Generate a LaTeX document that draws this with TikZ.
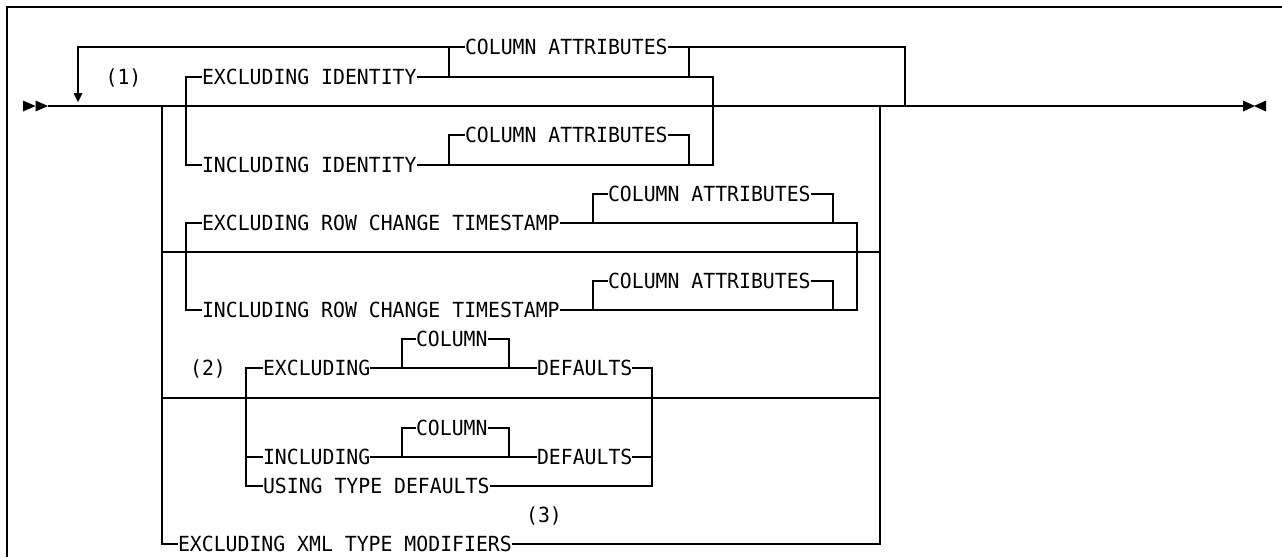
\documentclass[tikz,border=0pt]{standalone}
\usepackage{fontspec}
\newfontfamily\diagfont{DejaVu Sans Mono}[FakeStretch=0.952]
\tikzset{
  lbl/.style={font=\diagfont\fontsize{20.8}{21}\selectfont, inner sep=0pt, outer sep=0pt,
              text height=15.2pt, text depth=0pt, anchor=west},
  note/.style={lbl, anchor=center},
  rr/.style={line width=1.1pt, black},
  frame/.style={line width=1.6pt, black},
  tip/.style={fill=black}
}
\begin{document}
\begin{tikzpicture}[x=1pt,y=-1pt]
\useasboundingbox (0,0) rectangle (1282,557);
% frame
\draw[frame] (7,557) -- (7,7) -- (1282,7);

% text nodes
\node[note] (n1) at (123.5,77) {(1)};
\node[lbl] (ca1) at (465,47) {COLUMN ATTRIBUTES};
\node[lbl] (ei) at (202,77) {EXCLUDING IDENTITY};
\node[lbl] (ca2) at (465,135) {COLUMN ATTRIBUTES};
\node[lbl] (ii) at (202,165) {INCLUDING IDENTITY};
\node[lbl] (ca3) at (608,194) {COLUMN ATTRIBUTES};
\node[lbl] (er) at (202,223) {EXCLUDING ROW CHANGE TIMESTAMP};
\node[lbl] (ca4) at (608,281) {COLUMN ATTRIBUTES};
\node[lbl] (ir) at (202,310) {INCLUDING ROW CHANGE TIMESTAMP};
\node[lbl] (c1) at (416,339) {COLUMN};
\node[note] (n2) at (208,368) {(2)};
\node[lbl] (ex) at (263,368) {EXCLUDING};
\node[lbl] (d1) at (537,368) {DEFAULTS};
\node[lbl] (c2) at (416,428) {COLUMN};
\node[lbl] (in) at (263,457) {INCLUDING};
\node[lbl] (d2) at (537,457) {DEFAULTS};
\node[lbl] (us) at (263,486) {USING TYPE DEFAULTS};
\node[note] (n3) at (544,515) {(3)};
\node[lbl] (xm) at (178,544) {EXCLUDING XML TYPE MODIFIERS};

% key coordinates
\coordinate (start) at (48,106);
\coordinate (stop) at (1243,106);
\coordinate (lpL) at (78,47);
\coordinate (lpT) at (78,93);
\coordinate (lpR) at (905,47);
\coordinate (lpB) at (905,106);

% start / end markers
\fill[tip] (23,100.5) -- (35.5,106) -- (23,111.5) -- cycle;
\fill[tip] (35.5,100.5) -- (48,106) -- (35.5,111.5) -- cycle;
\fill[tip] (1243,100.5) -- (1255,106) -- (1243,111.5) -- cycle;
\fill[tip] (1266,100.5) -- (1254,106) -- (1266,111.5) -- cycle;

% main line
\draw[rr] (start) -- (stop);
\draw[line width=2.2pt] (910,106) -- (933,106);

% repeat loop with COLUMN ATTRIBUTES on it
\draw[rr] (ca1.west) -- (lpL) -- (lpT);
\fill[tip] (73.5,93) -- (82.5,93) -- (78,102) -- cycle;
\draw[rr] (ca1.east) -- (lpR) -- (lpB);
\draw[rr] (449,47) -- (449,77);
\draw[rr] (689,47) -- (689,77);

% identity group
\draw[rr] (ei.west) -- (186,77) -- (186,165) -- (ii.west);
\draw[rr] (ei.east) -- (713,77) -- (713,165) -- (ii.east);
\draw[rr] (449,165) -- (449,135) -- (ca2.west);
\draw[rr] (ca2.east) -- (689,135) -- (689,165);

% left branch and xml
\draw[rr] (162,106) -- (162,544) -- (xm.west);
\draw[rr] (xm.east) -- (880,544) -- (880,106);
\draw[rr] (162,252) -- (880,252);
\draw[rr] (162,398) -- (880,398);

% row change group
\draw[rr] (er.west) -- (186,223) -- (186,310) -- (ir.west);
\draw[rr] (er.east) -- (857,223) -- (857,310) -- (ir.east);
\draw[rr] (593,223) -- (593,194) -- (ca3.west);
\draw[rr] (ca3.east) -- (833,194) -- (833,223);
\draw[rr] (593,310) -- (593,281) -- (ca4.west);
\draw[rr] (ca4.east) -- (833,281) -- (833,310);

% defaults group
\draw[rr] (ex.west) -- (246,368) -- (246,486) -- (us.west);
\draw[rr] (246,457) -- (in.west);
\draw[rr] (ex.east) -- (d1.west);
\draw[rr] (in.east) -- (d2.west);
\draw[rr] (402,368) -- (402,339) -- (c1.west);
\draw[rr] (c1.east) -- (509,339) -- (509,368);
\draw[rr] (402,457) -- (402,428) -- (c2.west);
\draw[rr] (c2.east) -- (509,428) -- (509,457);
\draw[rr] (d1.east) -- (652,368) -- (652,486) -- (us.east);
\draw[rr] (d2.east) -- (652,457);
\end{tikzpicture}
\end{document}
